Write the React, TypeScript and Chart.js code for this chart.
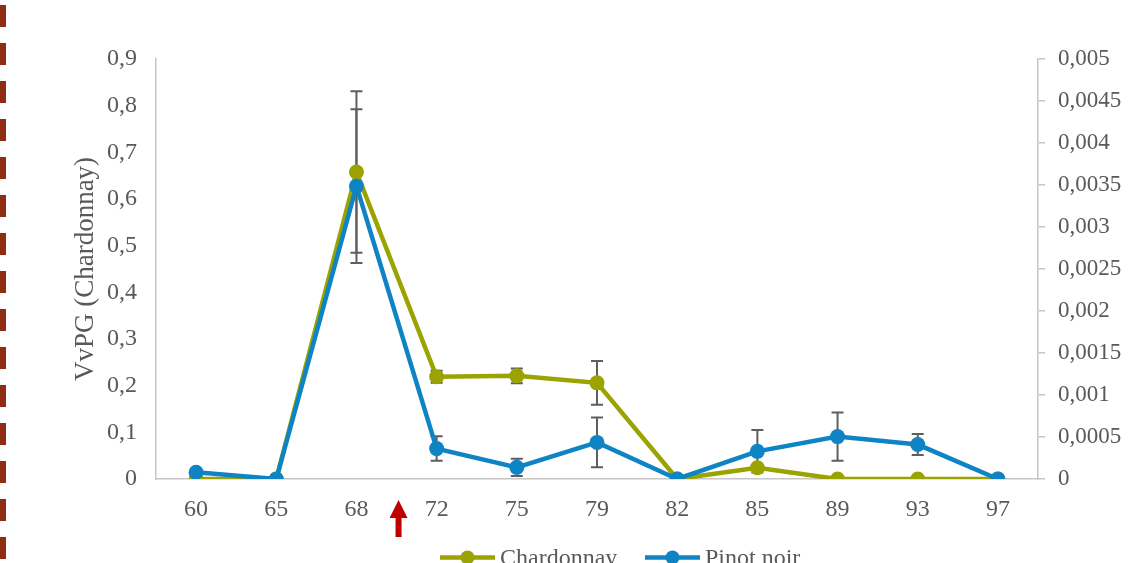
import React, { useEffect, useRef } from "react";
import { Chart, registerables } from "chart.js";

Chart.register(...registerables);

const categories = ["60", "65", "68", "72", "75", "79", "82", "85", "89", "93", "97"];
const chardonnay = [0, 0, 0.658, 0.219, 0.221, 0.206, 0, 0.024, 0, 0, 0];
const chardonnayErr = [0, 0, 0.173, 0.013, 0.016, 0.047, 0, 0, 0, 0, 0];
const pinotNoir = [0.00008, 0, 0.003486, 0.000362, 0.000139, 0.000436, 0, 0.000329, 0.000505, 0.00041, 0];
const pinotNoirErr = [0, 0, 0.000915, 0.000146, 0.000103, 0.000297, 0, 0.000253, 0.000287, 0.000125, 0];
const leftTickValues = [0, 0.1, 0.2, 0.3, 0.4, 0.5, 0.6, 0.7, 0.8, 0.9];
const leftTickLabels = ["0", "0,1", "0,2", "0,3", "0,4", "0,5", "0,6", "0,7", "0,8", "0,9"];
const rightTickValues = [0, 0.0005, 0.001, 0.0015, 0.002, 0.0025, 0.003, 0.0035, 0.004, 0.0045, 0.005];
const rightTickLabels = ["0", "0,0005", "0,001", "0,0015", "0,002", "0,0025", "0,003", "0,0035", "0,004", "0,0045", "0,005"];
const yTitle = "VvPG (Chardonnay)";
const seriesNames = ["Chardonnay", "Pinot noir"];

const OLIVE = "#9AA300";
const BLUE = "#0E84C4";
const TEXT = "#595959";
const AXIS = "#C6C6C6";
const FONT = "'Liberation Serif', 'Times New Roman', serif";

const extrasPlugin = {
  id: "extras",
  beforeDatasetsDraw(chart: any) {
    const ctx = chart.ctx;
    const x = chart.scales.x;
    const sets: [number[], number[], any][] = [
      [chardonnay, chardonnayErr, chart.scales.y],
      [pinotNoir, pinotNoirErr, chart.scales.y1],
    ];
    ctx.save();
    ctx.strokeStyle = "#5E5E5E";
    ctx.lineWidth = 2;
    sets.forEach(([vals, errs, ys]) => {
      vals.forEach((v, i) => {
        const e = errs[i];
        if (!e) return;
        const px = x.getPixelForValue(i);
        const top = ys.getPixelForValue(v + e);
        const bot = ys.getPixelForValue(Math.max(v - e, 0));
        ctx.beginPath();
        ctx.moveTo(px, top);
        ctx.lineTo(px, bot);
        ctx.moveTo(px - 6, top);
        ctx.lineTo(px + 6, top);
        ctx.moveTo(px - 6, bot);
        ctx.lineTo(px + 6, bot);
        ctx.stroke();
      });
    });
    ctx.restore();
  },
  afterDraw(chart: any) {
    const ctx = chart.ctx;
    const area = chart.chartArea;
    const x = chart.scales.x;
    ctx.save();
    // left dashed border
    ctx.fillStyle = "#8E2D14";
    for (let y = 5; y < 563; y += 38) {
      ctx.fillRect(0, y, 6, 22);
    }
    // y title
    ctx.fillStyle = TEXT;
    ctx.font = `27px ${FONT}`;
    ctx.translate(86, (area.top + area.bottom) / 2);
    ctx.rotate(-Math.PI / 2);
    ctx.textAlign = "center";
    ctx.textBaseline = "middle";
    ctx.fillText(yTitle, 0, 0);
    ctx.setTransform(1, 0, 0, 1, 0, 0);
    // red arrow between 68 and 72
    const ax = (x.getPixelForValue(2) + x.getPixelForValue(3)) / 2 + 2;
    ctx.fillStyle = "#C00000";
    ctx.beginPath();
    ctx.moveTo(ax, 500);
    ctx.lineTo(ax + 9, 518);
    ctx.lineTo(ax + 3, 518);
    ctx.lineTo(ax + 3, 537);
    ctx.lineTo(ax - 3, 537);
    ctx.lineTo(ax - 3, 518);
    ctx.lineTo(ax - 9, 518);
    ctx.closePath();
    ctx.fill();
    // legend
    const items: [string, string, number][] = [
      [seriesNames[0], OLIVE, 440],
      [seriesNames[1], BLUE, 645],
    ];
    ctx.font = `24px ${FONT}`;
    ctx.textAlign = "left";
    ctx.textBaseline = "alphabetic";
    items.forEach(([label, color, lx]) => {
      ctx.strokeStyle = color;
      ctx.lineWidth = 4.5;
      ctx.beginPath();
      ctx.moveTo(lx, 557.5);
      ctx.lineTo(lx + 55, 557.5);
      ctx.stroke();
      ctx.fillStyle = color;
      ctx.beginPath();
      ctx.arc(lx + 27.5, 557.5, 7, 0, Math.PI * 2);
      ctx.fill();
      ctx.fillStyle = TEXT;
      ctx.fillText(label, lx + 60, 565);
    });
    ctx.restore();
  },
};

export default function App() {
  const ref = useRef<HTMLCanvasElement | null>(null);
  useEffect(() => {
    if (!ref.current) return;
    const chart = new Chart(ref.current, {
      type: "line",
      data: {
        labels: categories,
        datasets: [
          {
            label: seriesNames[0],
            data: chardonnay,
            yAxisID: "y",
            borderColor: OLIVE,
            backgroundColor: OLIVE,
            borderWidth: 4.5,
            pointRadius: 7.5,
            pointBorderWidth: 0,
            pointBackgroundColor: OLIVE,
            tension: 0,
            order: 1,
          },
          {
            label: seriesNames[1],
            data: pinotNoir,
            yAxisID: "y1",
            borderColor: BLUE,
            backgroundColor: BLUE,
            borderWidth: 4.5,
            pointRadius: 7.5,
            pointBorderWidth: 0,
            pointBackgroundColor: BLUE,
            tension: 0,
            order: 0,
          },
        ],
      },
      options: {
        animation: false,
        responsive: true,
        maintainAspectRatio: false,
        layout: { padding: { top: 59, left: 0, right: 0, bottom: 0 } },
        plugins: { legend: { display: false }, tooltip: { enabled: false } },
        scales: {
          x: {
            type: "category",
            offset: true,
            grid: { display: false, drawTicks: false },
            border: { display: true, color: AXIS, width: 1.5 },
            ticks: { color: TEXT, font: { family: FONT, size: 24 }, padding: 16, maxRotation: 0, autoSkip: false },
            afterFit: (s: any) => { s.height = 84; },
          },
          y: {
            position: "left",
            min: 0,
            max: 0.9,
            grid: { display: false, drawTicks: false },
            border: { display: true, color: AXIS, width: 1.5 },
            afterBuildTicks: (s: any) => { s.ticks = leftTickValues.map((v) => ({ value: v })); },
            ticks: {
              color: TEXT,
              font: { family: FONT, size: 24 },
              padding: 19,
              callback: (_v: any, i: number) => leftTickLabels[i],
            },
            afterFit: (s: any) => { s.width = 156; },
          },
          y1: {
            position: "right",
            min: 0,
            max: 0.005,
            grid: { display: true, drawOnChartArea: false, drawTicks: true, tickLength: 7, color: AXIS, lineWidth: 1.5 },
            border: { display: true, color: AXIS, width: 1.5 },
            afterBuildTicks: (s: any) => { s.ticks = rightTickValues.map((v) => ({ value: v })); },
            ticks: {
              color: TEXT,
              font: { family: FONT, size: 23 },
              padding: 13,
              callback: (_v: any, i: number) => rightTickLabels[i],
            },
            afterFit: (s: any) => { s.width = 94; },
          },
        },
      },
      plugins: [extrasPlugin],
    });
    return () => chart.destroy();
  }, []);
  return (
    <div style={{ position: "absolute", left: 0, top: 0, width: 1132, height: 563, background: "#fff" }}>
      <canvas ref={ref} />
    </div>
  );
}
